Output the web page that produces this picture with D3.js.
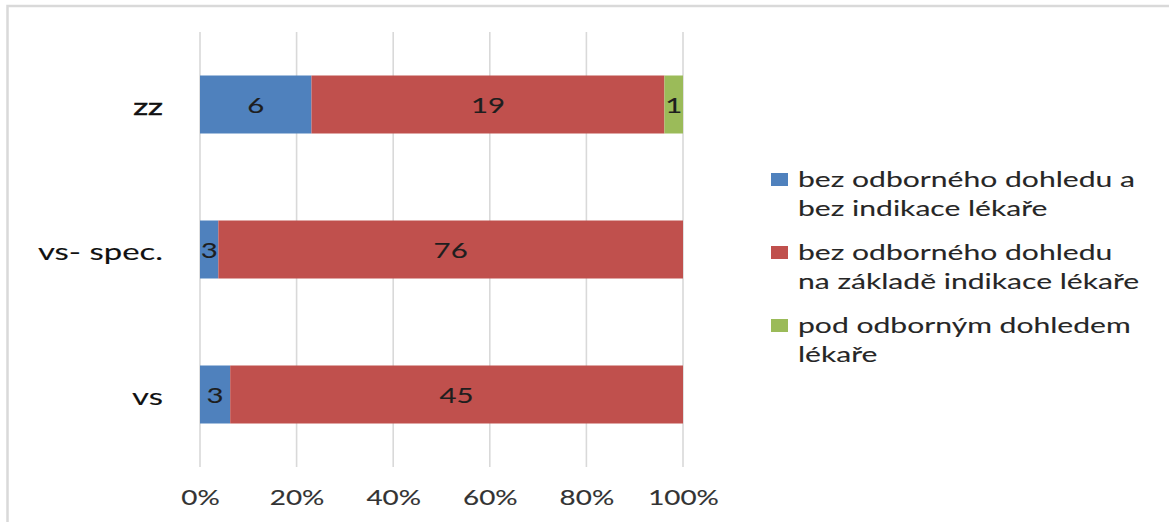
<!DOCTYPE html>
<html>
<head>
<meta charset="utf-8">
<script src="https://cdn.jsdelivr.net/npm/d3@7"></script>
<style>
  html, body { margin: 0; padding: 0; background: #ffffff; }
  svg text { font-family: Lato, "Open Sans", sans-serif; }
</style>
</head>
<body>
<svg id="chart" width="1169" height="522"></svg>
<script>
// Categories (top to bottom) and the three stacked series
const categories = ["zz", "vs- spec.", "vs"];
const seriesNames = [
  ["bez odborného dohledu a", "bez indikace lékaře"],
  ["bez odborného dohledu", "na základě indikace lékaře"],
  ["pod odborným dohledem", "lékaře"]
];
const bezDohleduBezIndikace = [6, 3, 3];
const bezDohleduSIndikaci = [19, 76, 45];
const podDohledem = [1, 0, 0];
const tickValues = [0, 0.2, 0.4, 0.6, 0.8, 1];

const colors = ["#4F81BD", "#C0504D", "#9BBB59"];
const stretch = 1.4;   // horizontal widening of all lettering

const svg = d3.select("#chart");
const W = 1169, H = 522;

svg.append("rect").attr("width", W).attr("height", H).attr("fill", "#fff");

// outer chart frame (left and top edges inside the view)
svg.append("path")
  .attr("d", `M7.5,${H + 5} L7.5,6 L${W + 5},6`)
  .attr("fill", "none").attr("stroke", "#d9d9d9").attr("stroke-width", 2.5);

const x = d3.scaleLinear().domain([0, 1]).range([200, 683]);
const y = d3.scaleBand().domain(categories).range([32, 467])
  .paddingInner(0.6).paddingOuter(0.3);

// gridlines
svg.append("g").selectAll("line").data(tickValues).join("line")
  .attr("x1", d => x(d)).attr("x2", d => x(d))
  .attr("y1", 32).attr("y2", 467)
  .attr("stroke", "#d9d9d9").attr("stroke-width", 1.6);

// x axis labels
const xAxis = d3.axisBottom(x).tickValues(tickValues)
  .tickFormat(d3.format(".0%")).tickSize(0).tickPadding(0);
const gx = svg.append("g").attr("transform", "translate(0,490)").call(xAxis);
gx.select(".domain").remove();
gx.selectAll("text")
  .attr("y", 0).attr("dy", "0.71em")
  .attr("font-size", 20.5).attr("fill", "#333")
  .attr("stroke", "#333").attr("stroke-width", 0.12)
  .style("font-family", "Lato, 'Open Sans', sans-serif")
  .attr("transform", `scale(${stretch * 0.97},1)`)
  .attr("x", 0);

// normalized stacks
const rows = categories.map((c, i) => ({
  cat: c,
  s0: bezDohleduBezIndikace[i],
  s1: bezDohleduSIndikaci[i],
  s2: podDohledem[i]
}));
const stack = d3.stack().keys(["s0", "s1", "s2"]).offset(d3.stackOffsetExpand);
const layers = stack(rows);

const gBars = svg.append("g");
layers.forEach((layer, li) => {
  const g = gBars.append("g");
  g.selectAll("rect").data(layer).join("rect")
    .attr("x", d => x(d[0]))
    .attr("y", d => y(d.data.cat))
    .attr("width", d => x(d[1]) - x(d[0]))
    .attr("height", y.bandwidth())
    .attr("fill", colors[li]);
  g.selectAll("text").data(layer.filter(d => d.data[layer.key] > 0)).join("text")
    .attr("transform", d => `translate(${(x(d[0]) + x(d[1])) / 2},${y(d.data.cat) + y.bandwidth() / 2 + 1}) scale(${stretch},1)`)
    .attr("text-anchor", "middle").attr("dy", "0.36em")
    .attr("font-size", 21).attr("fill", "#1e1e1e")
    .attr("stroke", "#1e1e1e").attr("stroke-width", 0.1)
    .text(d => d.data[layer.key]);
});

// category labels
svg.append("g").selectAll("text").data(categories).join("text")
  .attr("transform", d => `translate(163,${y(d) + y.bandwidth() / 2 + 2}) scale(${stretch},1)`)
  .attr("text-anchor", "end").attr("dy", "0.36em")
  .attr("font-size", 23.5).attr("fill", "#111")
  .attr("stroke", "#111").attr("stroke-width", d => d === "zz" ? 0.5 : 0.12)
  .text(d => d);

// legend
const legend = svg.append("g");
const legendTop = 187, groupGap = 73, lineGap = 28.5;
seriesNames.forEach((lines, i) => {
  const base = legendTop + i * groupGap;
  legend.append("rect")
    .attr("x", 771).attr("y", base - 14).attr("width", 17).attr("height", 13)
    .attr("fill", colors[i]);
  lines.forEach((t, j) => {
    legend.append("text")
      .attr("transform", `translate(798,${base + j * lineGap}) scale(${stretch},1)`)
      .attr("font-size", 21.5).attr("fill", "#262626")
      .attr("stroke", "#262626").attr("stroke-width", 0.1)
      .text(t);
  });
});
</script>
</body>
</html>
